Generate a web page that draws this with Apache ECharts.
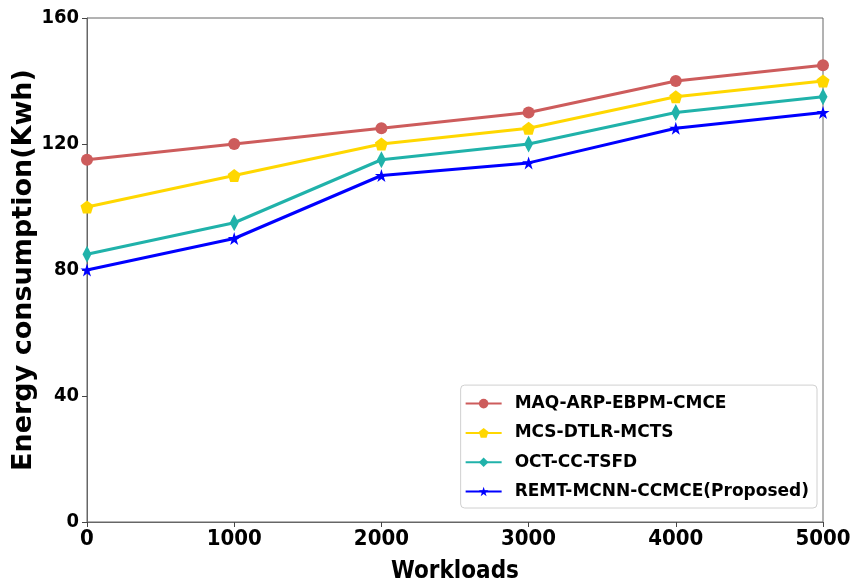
<!DOCTYPE html>
<html>
<head>
<meta charset="utf-8">
<script src="https://cdn.jsdelivr.net/npm/echarts@6/dist/echarts.min.js"></script>
<style>
  html, body { margin: 0; padding: 0; background: #fff; }
  #chart { width: 853px; height: 585px; }
</style>
</head>
<body>
<div id="chart"></div>
<script>
// Workload levels on the x axis
const workloads = [0, 1000, 2000, 3000, 4000, 5000];

// Energy consumption (Kwh) per method
const maqArpEbpmCmce = [115, 120, 125, 130, 140, 145];
const mcsDtlrMcts = [100, 110, 120, 125, 135, 140];
const octCcTsfd = [85, 95, 115, 120, 130, 135];
const remtMcnnCcmce = [80, 90, 110, 114, 125, 130];

const seriesNames = [
  'MAQ-ARP-EBPM-CMCE',
  'MCS-DTLR-MCTS',
  'OCT-CC-TSFD',
  'REMT-MCNN-CCMCE(Proposed)'
];

const yTicks = [0, 40, 80, 120, 160];

const pentagon = 'path://M0,-1L0.951,-0.309L0.588,0.809L-0.588,0.809L-0.951,-0.309Z';
const thinDiamond = 'path://M0,-1L0.6,0L0,1L-0.6,0Z';
const star = 'path://M0,-1L0.2245,-0.309L0.951,-0.309L0.3633,0.118L0.5878,0.809L0,0.382L-0.5878,0.809L-0.3633,0.118L-0.951,-0.309L-0.2245,-0.309Z';

function pairs(values) {
  return workloads.map((w, i) => [w, values[i]]);
}

function lineSeries(name, values, color, symbol, size) {
  return {
    name: name,
    type: 'line',
    data: pairs(values),
    symbol: symbol,
    symbolSize: size,
    showAllSymbol: true,
    clip: false,
    lineStyle: { color: color, width: 3 },
    itemStyle: { color: color },
    emphasis: { disabled: true },
    animation: false
  };
}

const chart = echarts.init(document.getElementById('chart'));
const tickFont = {
  fontFamily: 'DejaVu Sans Condensed',
  fontWeight: 'bold',
  color: '#000'
};

chart.setOption({
  animation: false,
  backgroundColor: '#fff',
  grid: {
    left: 87, right: 30, top: 18, bottom: 63,
    outerBoundsMode: 'none',
    containLabel: false,
    show: true, borderColor: '#666', borderWidth: 1
  },
  xAxis: {
    type: 'value',
    min: 0,
    max: 5000,
    interval: 1000,
    name: 'Workloads',
    nameLocation: 'middle',
    nameGap: 38,
    nameTextStyle: { fontFamily: 'DejaVu Sans Condensed', fontWeight: 'bold', fontSize: 24, color: '#000' },
    axisLine: { show: true, lineStyle: { color: '#666', width: 1 } },
    axisTick: { show: true, inside: false, length: 5, lineStyle: { color: '#444' } },
    axisLabel: Object.assign({ margin: 6, fontSize: 22, formatter: v => String(v) }, tickFont),
    splitLine: { show: false }
  },
  yAxis: {
    type: 'value',
    min: 0,
    max: 160,
    interval: 40,
    name: 'Energy consumption(Kwh)',
    nameLocation: 'middle',
    nameGap: 50,
    nameMoveOverlap: false,
    nameTextStyle: { fontFamily: 'DejaVu Sans', fontWeight: 'bold', fontSize: 27, color: '#000' },
    axisLine: { show: true, lineStyle: { color: '#666', width: 1 } },
    axisTick: { show: true, inside: false, length: 5, lineStyle: { color: '#444' } },
    axisLabel: Object.assign({ margin: 8, fontSize: 20, formatter: v => yTicks.includes(v) ? String(v) : '' }, tickFont),
    splitLine: { show: false }
  },
  legend: {
    orient: 'vertical',
    right: 36,
    bottom: 77,
    itemWidth: 36,
    itemHeight: 12,
    itemGap: 12.3,
    padding: [10, 8, 8, 4],
    backgroundColor: '#fff',
    borderColor: '#d0d0d0',
    borderWidth: 1,
    borderRadius: 4,
    textStyle: { fontFamily: 'DejaVu Sans', fontWeight: 'bold', fontSize: 17, color: '#000', padding: [0, 0, 0, 8] },
    data: seriesNames
  },
  series: [
    lineSeries(seriesNames[0], maqArpEbpmCmce, '#cd5c5c', 'circle', 12),
    lineSeries(seriesNames[1], mcsDtlrMcts, '#ffd700', pentagon, 13),
    lineSeries(seriesNames[2], octCcTsfd, '#20b2aa', thinDiamond, [9, 17]),
    lineSeries(seriesNames[3], remtMcnnCcmce, '#0000ff', star, 13)
  ]
});
</script>
</body>
</html>
